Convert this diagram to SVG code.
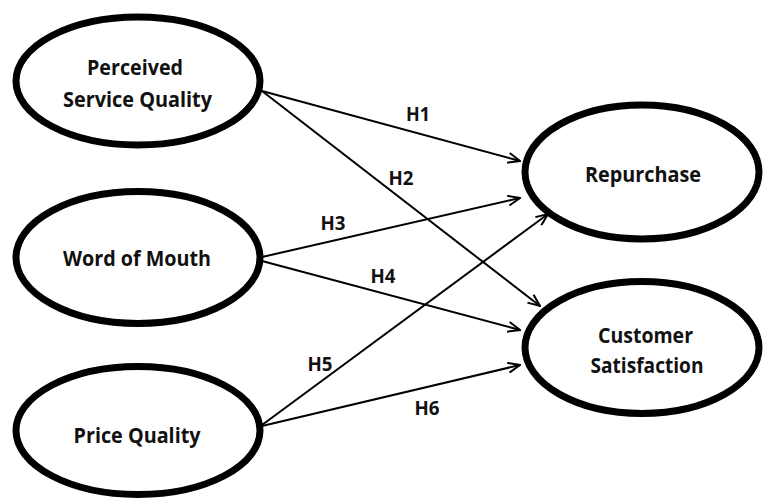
<svg xmlns="http://www.w3.org/2000/svg" width="763" height="501" viewBox="0 0 763 501">
<defs>
<marker id="arr" viewBox="0 0 14 12" refX="13" refY="6" markerWidth="14" markerHeight="12" markerUnits="userSpaceOnUse" orient="auto">
<path d="M1,1 L13,6 L1,11" fill="none" stroke="#000" stroke-width="2"/>
</marker>
</defs>
<style>
.node ellipse{fill:#fff;stroke:#000;stroke-width:7}
text{font-family:"Open Sans","Liberation Sans",sans-serif;font-weight:700;font-size:21px;fill:#111;text-anchor:middle}
.lbl{font-size:19px}
.edges line{stroke:#000;stroke-width:2;marker-end:url(#arr)}
</style>
<rect width="763" height="501" fill="#fff"/>
<g id="edges" class="edges">
<line x1="262" y1="91" x2="520" y2="161"/>
<line x1="262" y1="91" x2="540" y2="306"/>
<line x1="262" y1="257" x2="520" y2="198"/>
<line x1="262" y1="261" x2="520" y2="330"/>
<line x1="262" y1="425" x2="548" y2="214"/>
<line x1="262" y1="426" x2="520" y2="365"/>
</g>
<g id="labels">
<text class="lbl" x="418" y="121" textLength="24" lengthAdjust="spacingAndGlyphs">H1</text>
<text class="lbl" x="401" y="185" textLength="25" lengthAdjust="spacingAndGlyphs">H2</text>
<text class="lbl" x="333" y="230" textLength="25" lengthAdjust="spacingAndGlyphs">H3</text>
<text class="lbl" x="383" y="283" textLength="25" lengthAdjust="spacingAndGlyphs">H4</text>
<text class="lbl" x="320" y="371" textLength="25" lengthAdjust="spacingAndGlyphs">H5</text>
<text class="lbl" x="427" y="415" textLength="25" lengthAdjust="spacingAndGlyphs">H6</text>
</g>
<g id="n-psq" class="node">
<ellipse cx="138" cy="81" rx="122" ry="64"/>
<text x="135" y="75" textLength="96" lengthAdjust="spacingAndGlyphs">Perceived</text>
<text x="137.5" y="107" textLength="149" lengthAdjust="spacingAndGlyphs">Service Quality</text>
</g>
<g id="n-wom" class="node">
<ellipse cx="138" cy="257.5" rx="122" ry="66"/>
<text x="137" y="266" textLength="148" lengthAdjust="spacingAndGlyphs">Word of Mouth</text>
</g>
<g id="n-pq" class="node">
<ellipse cx="138" cy="430.5" rx="122" ry="64"/>
<text x="137" y="443" textLength="127" lengthAdjust="spacingAndGlyphs">Price Quality</text>
</g>
<g id="n-rep" class="node">
<ellipse cx="642" cy="172" rx="117" ry="67"/>
<text x="643" y="182" textLength="116" lengthAdjust="spacingAndGlyphs">Repurchase</text>
</g>
<g id="n-cs" class="node">
<ellipse cx="642" cy="347.5" rx="117" ry="66"/>
<text x="645.5" y="343" textLength="95" lengthAdjust="spacingAndGlyphs">Customer</text>
<text x="647" y="373" textLength="113" lengthAdjust="spacingAndGlyphs">Satisfaction</text>
</g>
</svg>
